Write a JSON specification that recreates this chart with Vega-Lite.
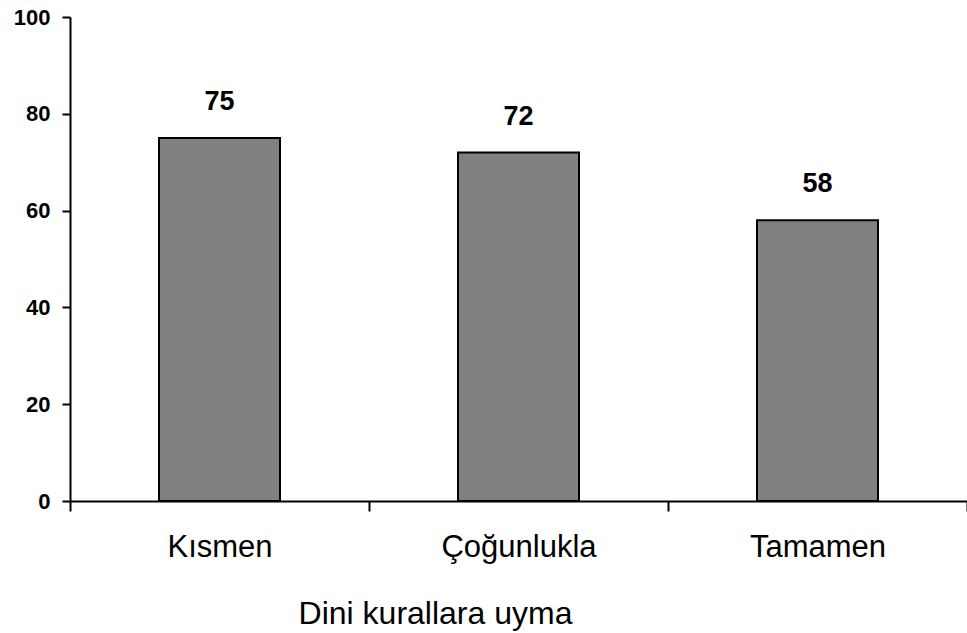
{
  "$schema": "https://vega.github.io/schema/vega-lite/v6.json",
  "autosize": "none",
  "width": 897,
  "height": 484,
  "padding": {"left": 70, "top": 17, "right": 0, "bottom": 132},
  "background": "white",
  "config": {"view": {"stroke": null}, "font": "Liberation Sans"},
  "data": {"values": [
    {"kategori": "Kısmen", "deger": 75},
    {"kategori": "Çoğunlukla", "deger": 72},
    {"kategori": "Tamamen", "deger": 58}
  ]},
  "encoding": {
    "x": {"field": "kategori", "type": "nominal", "sort": null,
      "scale": {"paddingInner": 0, "paddingOuter": 0},
      "axis": {"title": "Dini kurallara uyma", "labelAngle": 0, "labelFontSize": 31, "labelColor": "black",
        "labelPadding": 21, "tickBand": "extent", "tickSize": 10, "tickColor": "black", "tickWidth": 2,
        "domainColor": "black", "domainWidth": 2, "titleFontSize": 32, "titleFontWeight": "normal",
        "titleColor": "black", "titleX": 365, "titleY": 122, "titleAlign": "center", "titleBaseline": "alphabetic", "titleAnchor": null}},
    "y": {"field": "deger", "type": "quantitative", "scale": {"domain": [0, 100]},
      "axis": {"title": null, "values": [0, 20, 40, 60, 80, 100], "grid": false, "labelFontSize": 22, "labelFontWeight": "bold",
        "labelColor": "black", "labelPadding": 12, "tickSize": 8, "tickColor": "black", "tickWidth": 2,
        "domainColor": "black", "domainWidth": 2}}
  },
  "layer": [
    {"mark": {"type": "bar", "size": 121, "color": "#808080", "stroke": "black", "strokeWidth": 2}},
    {"mark": {"type": "text", "dy": -36, "fontSize": 27, "fontWeight": "bold", "baseline": "middle", "color": "black"},
      "encoding": {"text": {"field": "deger", "type": "quantitative"}}}
  ]
}
